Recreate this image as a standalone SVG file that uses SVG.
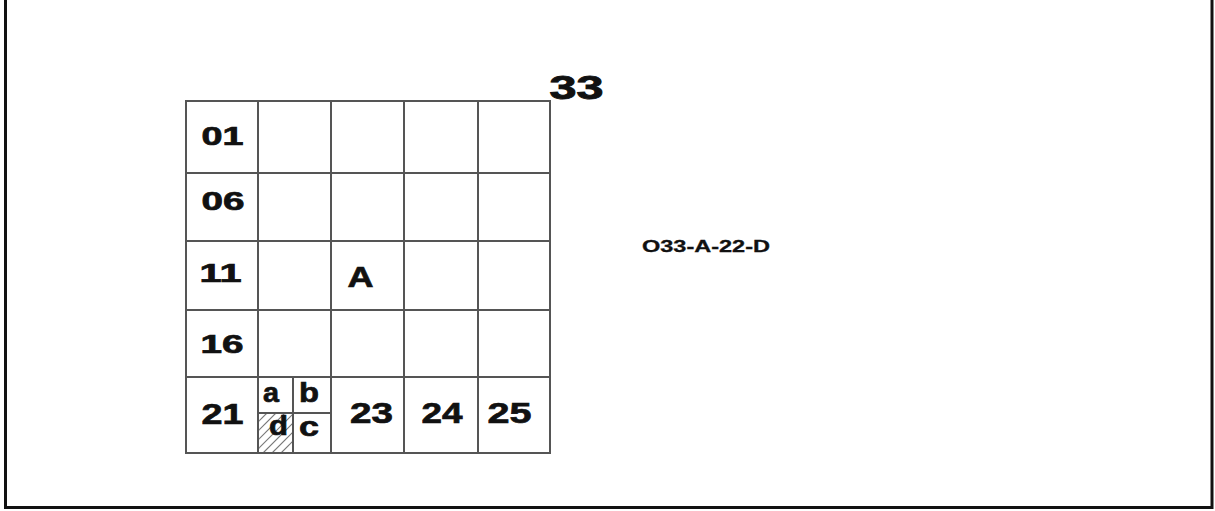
<svg xmlns="http://www.w3.org/2000/svg" width="1215" height="511" viewBox="0 0 1215 511">
  <style>
    .frame { fill: none; stroke: #111; stroke-width: 3; }
    .grid { fill: none; stroke: #555; stroke-width: 2; }
    .hatch { stroke: #777; stroke-width: 1.2; }
    text { font-family: "Liberation Sans", Arial, sans-serif; font-weight: bold; fill: #111; stroke: #111; stroke-width: 0.7; }
    .big { font-size: 33px; stroke-width: 0.9; }
    .lbl { font-size: 25px; }
    .bot { font-size: 30px; }
    .sub { font-size: 28px; }
    .code { font-size: 16px; stroke-width: 0.3; }
  </style>
  <defs>
    <clipPath id="dclip"><rect x="259" y="414" width="33" height="38"/></clipPath>
  </defs>
  <rect class="frame" x="5.5" y="-5" width="1206.5" height="512.5"/>

  <g id="connectors">
    <g class="hatch" clip-path="url(#dclip)">
      <line x1="250" y1="430" x2="280" y2="400"/>
      <line x1="250" y1="439" x2="290" y2="399"/>
      <line x1="250" y1="448" x2="300" y2="398"/>
      <line x1="250" y1="457" x2="300" y2="407"/>
      <line x1="250" y1="466" x2="300" y2="416"/>
      <line x1="250" y1="475" x2="300" y2="425"/>
      <line x1="250" y1="484" x2="300" y2="434"/>
    </g>
    <g class="grid">
      <rect x="186" y="101" width="364" height="352"/>
      <line x1="258" y1="101" x2="258" y2="453"/>
      <line x1="331" y1="101" x2="331" y2="453"/>
      <line x1="404" y1="101" x2="404" y2="453"/>
      <line x1="478" y1="101" x2="478" y2="453"/>
      <line x1="186" y1="173" x2="550" y2="173"/>
      <line x1="186" y1="241" x2="550" y2="241"/>
      <line x1="186" y1="310" x2="550" y2="310"/>
      <line x1="186" y1="377" x2="550" y2="377"/>
      <line x1="293" y1="377" x2="293" y2="453"/>
      <line x1="258" y1="413" x2="331" y2="413"/>
    </g>
  </g>

  <g id="title33"><text class="big" x="549.5" y="99" textLength="54" lengthAdjust="spacingAndGlyphs">33</text></g>
  <g id="cell01"><text class="lbl" x="201.5" y="145" textLength="42" lengthAdjust="spacingAndGlyphs">01</text></g>
  <g id="cell06"><text class="lbl" x="201.5" y="210" textLength="43" lengthAdjust="spacingAndGlyphs">06</text></g>
  <g id="cell11"><text class="lbl" x="199.5" y="282" textLength="42" lengthAdjust="spacingAndGlyphs">11</text></g>
  <g id="cell16"><text class="lbl" x="200.5" y="353" textLength="43" lengthAdjust="spacingAndGlyphs">16</text></g>
  <g id="cellA"><text class="bot" x="347.5" y="287" textLength="26" lengthAdjust="spacingAndGlyphs">A</text></g>
  <g id="cell21"><text class="bot" x="201.5" y="424" textLength="42" lengthAdjust="spacingAndGlyphs">21</text></g>
  <g id="cell22a"><text class="sub" x="263" y="402" textLength="16" lengthAdjust="spacingAndGlyphs">a</text></g>
  <g id="cell22b"><text class="sub" x="299" y="402" textLength="20" lengthAdjust="spacingAndGlyphs">b</text></g>
  <g id="cell22c"><text class="sub" x="299" y="436" textLength="20" lengthAdjust="spacingAndGlyphs">c</text></g>
  <g id="cell22d"><text class="sub" x="269" y="435" textLength="19" lengthAdjust="spacingAndGlyphs">d</text></g>
  <g id="cell23"><text class="bot" x="350" y="423" textLength="43" lengthAdjust="spacingAndGlyphs">23</text></g>
  <g id="cell24"><text class="bot" x="421.5" y="423" textLength="41" lengthAdjust="spacingAndGlyphs">24</text></g>
  <g id="cell25"><text class="bot" x="487.5" y="423" textLength="44" lengthAdjust="spacingAndGlyphs">25</text></g>
  <g id="code"><text class="code" x="642" y="252" textLength="128" lengthAdjust="spacingAndGlyphs">O33-A-22-D</text></g>
</svg>
